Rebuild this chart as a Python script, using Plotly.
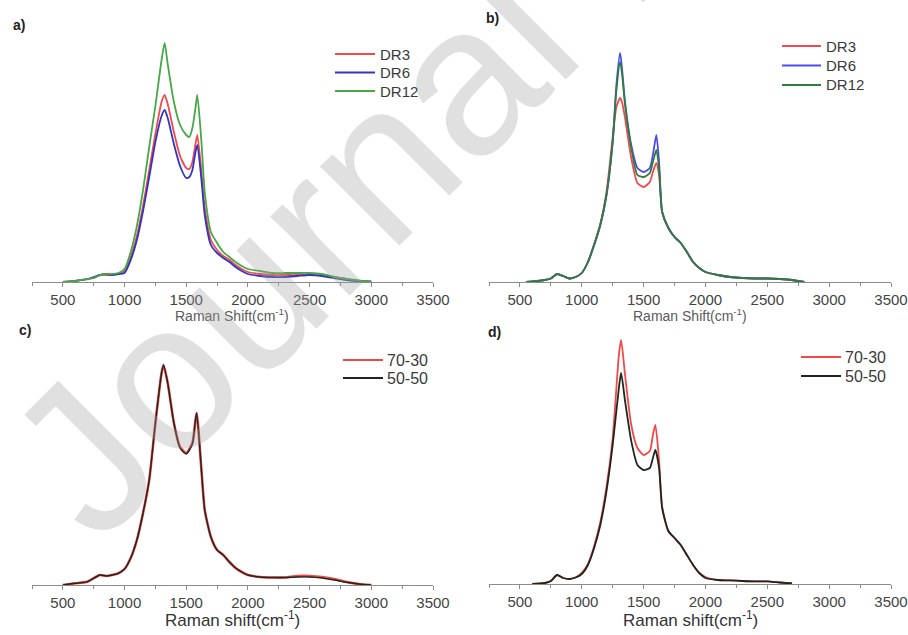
import plotly.graph_objects as go

# ---------------- data (intensity in arbitrary units) ----------------
# Panel a
x_a = [500, 600, 700, 750, 800, 850, 900, 950, 1000, 1050, 1100, 1150, 1200, 1250, 1300, 1325,
       1350, 1400, 1450, 1500, 1525, 1550, 1575, 1590, 1625, 1650, 1700, 1750, 1800, 1850, 1900,
       1950, 2000, 2100, 2200, 2300, 2400, 2500, 2600, 2700, 2800, 2900, 3000]
dr3_a = [0, 1, 3, 4, 7, 7, 7, 8, 11, 25, 46, 76, 112, 148, 180, 187,
         178, 150, 126, 114, 113, 120, 138, 147, 108, 74, 42, 32, 26, 22, 17,
         13, 10, 8, 7, 7, 7, 8, 7, 5, 3, 1, 0.3]
dr6_a = [0, 1, 3, 5, 7, 8, 7, 8, 9, 22, 42, 71, 105, 140, 166, 172,
         164, 138, 116, 104, 105, 112, 130, 137, 100, 67, 37, 29, 24, 20, 15,
         11, 8, 6, 5, 5, 6, 7, 6, 4, 2, 1, 0.3]
dr12_a = [0, 1, 3, 4, 7, 8, 8, 9, 13, 30, 56, 92, 135, 176, 222, 239,
          218, 180, 157, 147, 145, 154, 174, 187, 137, 90, 50, 39, 30, 25, 20,
          16, 13, 11, 9, 9, 9, 9, 8, 5, 3, 1.5, 0.5]

# Panel b
x_b = [550, 600, 700, 750, 800, 850, 900, 950, 1000, 1050, 1100, 1150, 1200, 1250, 1280, 1310,
       1325, 1350, 1400, 1450, 1500, 1550, 1575, 1603, 1625, 1650, 1700, 1750, 1800, 1850, 1900,
       1950, 2000, 2100, 2200, 2300, 2400, 2500, 2600, 2700, 2800]
dr3_b = [0, 0.5, 2, 3.5, 8, 6, 3.5, 5, 9, 20, 38, 58, 90, 145, 175, 184,
         180, 164, 124, 99, 95, 100, 110, 119, 107, 70, 54, 45, 39, 30, 20,
         14, 10, 7, 5, 4, 3.5, 3.5, 3, 2, 0]
dr6_b = [0, 0.5, 2, 3.5, 8, 6, 3.5, 5, 9, 20, 37, 57, 87, 140, 197, 229,
         214, 180, 137, 114, 110, 114, 127, 147, 120, 70, 54, 45, 39, 30, 20,
         14, 10, 7, 5, 4, 3.5, 3.5, 3, 2, 0]
dr12_b = [0, 0.5, 2, 3.5, 8, 6, 3.5, 5, 9, 20, 37, 57, 87, 140, 192, 220,
          209, 177, 134, 107, 105, 109, 120, 132, 114, 70, 54, 45, 39, 30, 20,
          14, 10, 7, 5, 4, 3.5, 3.5, 3, 2, 0]

# Panel c
x_c = [500, 600, 700, 800, 850, 900, 950, 1000, 1050, 1100, 1150, 1200, 1250, 1300, 1316,
       1350, 1400, 1450, 1500, 1550, 1575, 1585, 1625, 1650, 1700, 1750, 1800, 1850, 1900,
       1950, 2000, 2100, 2200, 2300, 2400, 2500, 2600, 2700, 2800, 2900, 3000]
s7030_c = [0, 1.7, 3.3, 10, 9, 10, 11.7, 16, 27, 45, 72, 105, 162, 212, 220,
           202, 162, 138, 132, 142, 165, 172, 112, 75, 48, 35, 30, 23, 17,
           13, 10, 8, 7.5, 7.5, 9, 9, 8, 6, 3, 1, 0]
s5050_c = [0, 1.7, 3.3, 10, 9, 10, 11.7, 16, 27, 45, 72, 105, 162, 212, 220,
           202, 162, 137, 131, 141, 165, 172, 112, 75, 48, 35, 30, 23, 17,
           13, 10, 8, 7.5, 7.5, 8, 8, 7, 5, 2.7, 1, 0]

# Panel d
x_d = [600, 700, 750, 800, 850, 900, 950, 1000, 1050, 1100, 1150, 1200, 1250, 1300, 1318,
       1350, 1400, 1450, 1500, 1550, 1575, 1595, 1625, 1650, 1700, 1750, 1800, 1850, 1900,
       1950, 2000, 2100, 2200, 2300, 2400, 2500, 2600, 2700]
s7030_d = [0, 1, 3, 9, 6, 5, 6.5, 11, 20, 38, 62, 97, 146, 229, 244,
           209, 159, 136, 129, 133, 149, 159, 123, 77, 53, 46, 39, 29, 19,
           11, 7, 4, 3.6, 3, 2.6, 2.6, 1.5, 0.5]
s5050_d = [0, 1, 3, 9, 6, 5, 6.5, 10, 19, 36, 59, 93, 139, 196, 211,
           183, 143, 119, 114, 116, 126, 134, 116, 76, 53, 46, 39, 29, 19,
           11, 6, 4, 3.6, 3, 2.6, 2.6, 1.5, 0.5]

tick_vals = [500, 1000, 1500, 2000, 2500, 3000, 3500]
tick_text = ["500", "1000", "1500", "2000", "2500", "3000", "3500"]
names_ab = ["DR3", "DR6", "DR12"]
names_cd = ["70-30", "50-50"]

W, H = 908, 635
FONT = "Liberation Sans, Arial, sans-serif"

fig = go.Figure()

def px_x(p):
    return p / W

def px_y(p):
    return 1 - p / H

def add(x, y, name, color, xa, ya, width=1.8):
    fig.add_trace(go.Scatter(x=x, y=y, name=name, mode="lines", showlegend=False,
                             line=dict(color=color, width=width, shape="spline", smoothing=0.6),
                             xaxis=xa, yaxis=ya))

col_a = ["#f04a4a", "#3434c4", "#46a846"]
col_b = ["#f04a4a", "#4a4af2", "#2f7d3c"]
col_cd = ["#f04848", "#1e261e"]

for yv, nm, c in zip([dr3_a, dr6_a, dr12_a], names_ab, col_a):
    add(x_a, yv, nm, c, "x", "y")
for yv, nm, c in zip([dr3_b, dr6_b, dr12_b], names_ab, col_b):
    add(x_b, yv, nm, c, "x2", "y2")
add(x_c, s7030_c, names_cd[0], col_cd[0], "x3", "y3", width=2.6)
add(x_c, s5050_c, names_cd[1], col_cd[1], "x3", "y3", width=1.4)
add(x_d, s7030_d, names_cd[0], col_cd[0], "x4", "y4")
add(x_d, s5050_d, names_cd[1], col_cd[1], "x4", "y4")

xaxis_common = dict(range=[250, 3500], tickvals=tick_vals, ticktext=tick_text,
                    showline=True, linecolor="#8c8c8c", linewidth=1, automargin=False,
                    ticks="outside", ticklen=4, tickcolor="#8c8c8c", tickwidth=1,
                    minor=dict(dtick=250, tick0=250, ticks="outside", ticklen=3, tickcolor="#8c8c8c"),
                    showgrid=False, zeroline=False, fixedrange=True,
                    tickfont=dict(family=FONT, size=15, color="#444444"))
yaxis_common = dict(visible=False, showgrid=False, zeroline=False, fixedrange=True, automargin=False)

left_dom = [px_x(32), px_x(433)]
right_dom = [px_x(489), px_x(891)]

fig.update_layout(
    xaxis=dict(domain=left_dom, anchor="y", **xaxis_common),
    yaxis=dict(domain=[px_y(282), px_y(35)], range=[0, 247], anchor="x", **yaxis_common),
    xaxis2=dict(domain=right_dom, anchor="y2", **xaxis_common),
    yaxis2=dict(domain=[px_y(282), px_y(35)], range=[0, 247], anchor="x2", **yaxis_common),
    xaxis3=dict(domain=left_dom, anchor="y3", **xaxis_common),
    yaxis3=dict(domain=[px_y(585), px_y(340)], range=[0, 245], anchor="x3", **yaxis_common),
    xaxis4=dict(domain=right_dom, anchor="y4", **xaxis_common),
    yaxis4=dict(domain=[px_y(584), px_y(335)], range=[0, 249], anchor="x4", **yaxis_common),
)

annotations = []
shapes = []

def legend(names, colors, x0, x1, xt, rows, size):
    for nm, c, yy in zip(names, colors, rows):
        shapes.append(dict(type="line", xref="paper", yref="paper",
                           x0=px_x(x0), x1=px_x(x1), y0=px_y(yy), y1=px_y(yy),
                           line=dict(color=c, width=1.8)))
        annotations.append(dict(text=nm, x=px_x(xt), y=px_y(yy), xref="paper", yref="paper",
                                showarrow=False, xanchor="left", yanchor="middle",
                                font=dict(family=FONT, size=size, color="#3a3a3a")))

legend(names_ab, col_a, 335, 375, 378, [54, 72.5, 91], 15)
legend(names_ab, col_b, 782, 821, 824, [46, 65.5, 85], 15)
legend(names_cd, col_cd, 343, 383, 385, [360, 378], 16)
legend(names_cd, col_cd, 801, 841, 843, [357, 376], 16)

for txt, x, y in [("a)", 19, 25), ("b)", 492, 18), ("c)", 25, 330), ("d)", 494, 332)]:
    annotations.append(dict(text="<b>%s</b>" % txt, x=px_x(x), y=px_y(y), xref="paper", yref="paper",
                            showarrow=False, xanchor="center", yanchor="middle",
                            font=dict(family=FONT, size=14, color="#222222")))

for x, y, txt, size, col in [(232, 326, "Raman Shift(cm<sup>-1</sup>)", 14, "#5a5a5a"),
                             (690, 326, "Raman Shift(cm<sup>-1</sup>)", 14, "#5a5a5a"),
                             (232, 632, "Raman shift(cm<sup>-1</sup>)", 17, "#333333"),
                             (690, 632, "Raman shift(cm<sup>-1</sup>)", 17, "#333333")]:
    annotations.append(dict(text=txt, x=px_x(x), y=px_y(y), xref="paper", yref="paper",
                            showarrow=False, xanchor="center", yanchor="bottom",
                            font=dict(family=FONT, size=size, color=col)))

# watermark
annotations.append(dict(text="Journal Pre-proof", x=px_x(625), y=px_y(-83), xref="paper", yref="paper",
                        showarrow=False, xanchor="center", yanchor="middle", textangle=-45,
                        font=dict(family=FONT, size=212, color="rgba(160,160,160,0.33)")))

fig.update_layout(annotations=annotations, shapes=shapes, width=W, height=H,
                  margin=dict(l=0, r=0, t=0, b=0, autoexpand=False),
                  paper_bgcolor="white", plot_bgcolor="white",
                  font=dict(family=FONT), showlegend=False)

fig.write_html("out.html", config={"displayModeBar": False},
               post_script="document.body.style.margin='0px';document.body.style.overflow='hidden';")
